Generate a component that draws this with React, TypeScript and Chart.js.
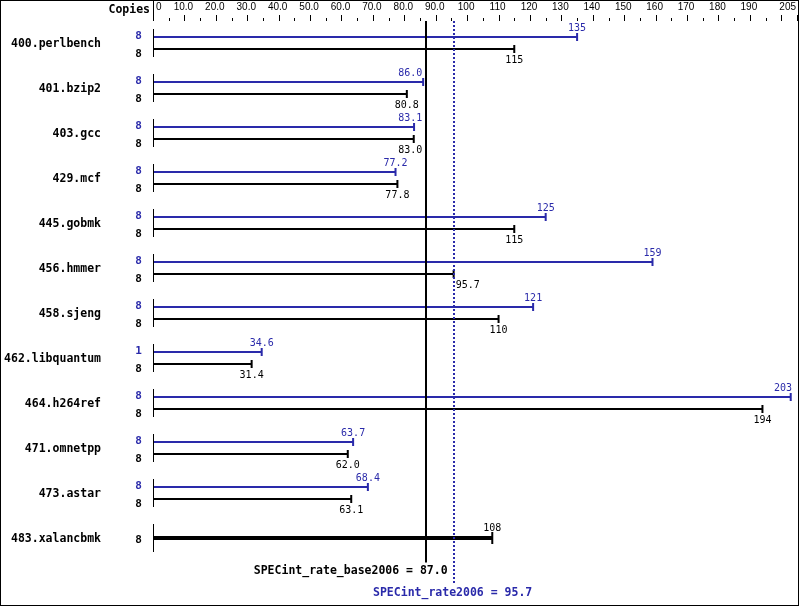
import React, { useEffect, useRef } from 'react';
import { Chart, registerables } from 'chart.js';

Chart.register(...registerables);

// ---- data ----
const benchmarks = [
  '400.perlbench', '401.bzip2', '403.gcc', '429.mcf', '445.gobmk', '456.hmmer',
  '458.sjeng', '462.libquantum', '464.h264ref', '471.omnetpp', '473.astar', '483.xalancbmk',
];
const peakRatios: (number | null)[] = [135, 86.0, 83.1, 77.2, 125, 159, 121, 34.6, 203, 63.7, 68.4, null];
const baseRatios: (number | null)[] = [115, 80.8, 83.0, 77.8, 115, 95.7, 110, 31.4, 194, 62.0, 63.1, 108];
const peakCopies: (number | null)[] = [8, 8, 8, 8, 8, 8, 8, 1, 8, 8, 8, null];
const baseCopies: (number | null)[] = [8, 8, 8, 8, 8, 8, 8, 8, 8, 8, 8, 8];
const baseMean = 87.0;
const peakMean = 95.7;
const baseMeanLabel = 'SPECint_rate_base2006 = 87.0';
const peakMeanLabel = 'SPECint_rate2006 = 95.7';
const axisMax = 205;
const majorTicks = [0, 10, 20, 30, 40, 50, 60, 70, 80, 90, 100, 110, 120, 130, 140, 150, 160, 170, 180, 190, 200, 205];
const minorTicks = [5, 15, 25, 35, 45, 55, 65, 75, 85, 95, 105, 115, 125, 135, 145, 155, 165, 175, 185, 195];
const labeledTicks = [0, 10, 20, 30, 40, 50, 60, 70, 80, 90, 100, 110, 120, 130, 140, 150, 160, 170, 180, 190, 205];

// ---- styles ----
const BLUE = '#2a2aaa';
const BLACK = '#000000';
const MONO = '"DejaVu Sans Mono", "Liberation Mono", monospace';
const SANS = '"Liberation Sans", "DejaVu Sans", sans-serif';

const fmt = (v: number) => (v >= 100 ? String(Math.round(v)) : v.toFixed(1));
const fmtTick = (v: number) => (v === 0 ? '0' : fmt(v));

const specPlugin = {
  id: 'specDecor',
  afterDatasetsDraw(chart: any) {
    const ctx: CanvasRenderingContext2D = chart.ctx;
    const xs = chart.scales.x;
    const ys = chart.scales.y;
    const area = chart.chartArea;
    const x0 = xs.getPixelForValue(0);
    const baseX = xs.getPixelForValue(baseMean);
    const peakX = xs.getPixelForValue(peakMean);
    const meanXs = [baseX, peakX];
    const peakMeta = chart.getDatasetMeta(0);
    const baseMeta = chart.getDatasetMeta(1);

    ctx.save();

    // ---- top axis ----
    ctx.fillStyle = BLACK;
    ctx.fillRect(Math.round(x0), 0, 1, area.top + 0.5);
    for (const t of majorTicks) {
      const px = Math.min(Math.round(xs.getPixelForValue(t)), 797);
      ctx.fillRect(px, 15, 1, 6);
    }
    for (const t of minorTicks) {
      const px = Math.round(xs.getPixelForValue(t));
      ctx.fillRect(px, 18, 1, 3);
    }
    ctx.font = `10px ${SANS}`;
    ctx.textBaseline = 'alphabetic';
    for (const t of labeledTicks) {
      const px = xs.getPixelForValue(t);
      const s = fmtTick(t);
      if (t === 0) {
        ctx.textAlign = 'left';
        ctx.fillText(s, px + 3, 10);
      } else if (t === axisMax) {
        ctx.textAlign = 'right';
        ctx.fillText(s, px - 1, 10);
      } else {
        ctx.textAlign = 'center';
        ctx.fillText(s, px - 1, 10);
      }
    }
    ctx.font = `bold 11.5px ${MONO}`;
    ctx.textAlign = 'right';
    ctx.fillText('Copies', x0 - 3, 13);

    // ---- rows ----
    const placed = (capX: number, w: number) => {
      let left = capX - w / 2;
      for (const L of meanXs) {
        if (left < L + 3 && left + w > L - 3) {
          if (capX < L - 1) left = L - 4 - w;
          else left = L + 2;
        }
      }
      if (left + w > 792) left = 792 - w;
      return left;
    };

    benchmarks.forEach((name, i) => {
      const yc = ys.getPixelForValue(i);
      // benchmark name
      ctx.fillStyle = BLACK;
      ctx.font = `bold 11.5px ${MONO}`;
      ctx.textAlign = 'right';
      ctx.fillText(name, 101, yc + 4);
      // left row bar
      ctx.fillRect(Math.round(x0), yc - 14, 1, 28);

      const pEl = peakRatios[i] != null ? peakMeta.data[i] : null;
      const bEl = baseRatios[i] != null ? baseMeta.data[i] : null;
      const single = !pEl;

      ctx.font = `10px ${MONO}`;
      ctx.textAlign = 'left';
      if (pEl) {
        const p = pEl.getProps(['x', 'y'], true);
        ctx.fillStyle = BLUE;
        ctx.fillRect(p.x - 1, p.y - 4, 2, 8);
        const s = fmt(peakRatios[i] as number);
        const w = ctx.measureText(s).width;
        ctx.fillText(s, placed(p.x, w), p.y - 6.5);
        ctx.font = `bold 11px ${MONO}`;
        ctx.textAlign = 'center';
        ctx.fillText(String(peakCopies[i]), 138.5, p.y + 2);
        ctx.font = `10px ${MONO}`;
        ctx.textAlign = 'left';
      }
      if (bEl) {
        const b = bEl.getProps(['x', 'y'], true);
        ctx.fillStyle = BLACK;
        const capH = single ? 12 : 8;
        ctx.fillRect(b.x - 1, b.y - capH / 2, 2, capH);
        const s = fmt(baseRatios[i] as number);
        const w = ctx.measureText(s).width;
        ctx.fillText(s, placed(b.x, w), single ? b.y - 7.5 : b.y + 13.5);
        ctx.font = `bold 11px ${MONO}`;
        ctx.textAlign = 'center';
        ctx.fillText(String(baseCopies[i]), 138.5, single ? b.y + 4.5 : b.y + 7.5);
      }
    });

    // ---- mean lines ----
    ctx.fillStyle = BLACK;
    ctx.fillRect(Math.round(baseX) - 1, area.top + 0.5, 2, area.bottom + 1.5 - area.top);
    ctx.fillStyle = BLUE;
    const px = Math.round(peakX);
    for (let y = area.top + 0.5; y < area.bottom + 24.5; y += 4) {
      ctx.fillRect(px - 1, y, 2, 2);
    }
    ctx.font = `bold 11.5px ${MONO}`;
    ctx.fillStyle = BLACK;
    ctx.textAlign = 'right';
    ctx.fillText(baseMeanLabel, peakX - 6, area.bottom + 13);
    ctx.fillStyle = BLUE;
    ctx.textAlign = 'center';
    ctx.fillText(peakMeanLabel, peakX - 1, area.bottom + 35);

    // ---- border ----
    ctx.strokeStyle = BLACK;
    ctx.lineWidth = 1;
    ctx.strokeRect(0.5, 0.5, chart.width - 1, chart.height - 1);
    ctx.restore();
  },
};

export default function App() {
  const ref = useRef<HTMLCanvasElement | null>(null);
  useEffect(() => {
    if (!ref.current) return;
    const chart = new Chart(ref.current, {
      type: 'bar',
      data: {
        labels: benchmarks,
        datasets: [
          {
            label: 'Peak',
            data: peakRatios,
            backgroundColor: BLUE,
            borderWidth: 0,
            categoryPercentage: 24 / 45,
            barPercentage: 1 / 6,
            skipNull: true,
          } as any,
          {
            label: 'Base',
            data: baseRatios,
            backgroundColor: BLACK,
            borderWidth: 0,
            categoryPercentage: 24 / 45,
            barPercentage: 1 / 6,
            skipNull: true,
          } as any,
        ],
      },
      options: {
        indexAxis: 'y',
        responsive: false,
        animation: false,
        layout: { padding: { left: 153, right: 2, top: 20.5, bottom: 45.5 } },
        scales: {
          x: { type: 'linear', min: 0, max: axisMax, display: false },
          y: { type: 'category', display: false, offset: true },
        },
        plugins: {
          legend: { display: false },
          tooltip: { enabled: false },
        },
      },
      plugins: [specPlugin],
    });
    return () => chart.destroy();
  }, []);
  return (
    <div style={{ position: 'absolute', left: 0, top: 0, width: 799, height: 606, background: '#fff' }}>
      <canvas ref={ref} width={799} height={606} style={{ display: 'block', width: 799, height: 606 }} />
    </div>
  );
}
